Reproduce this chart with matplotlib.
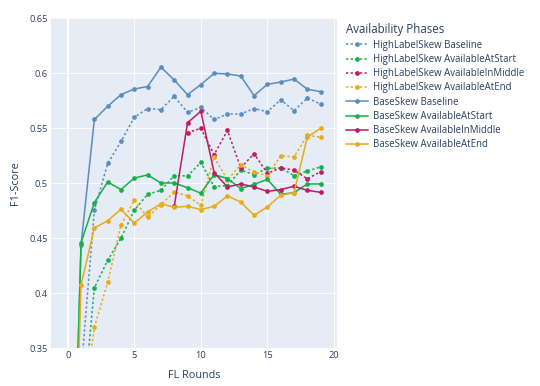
import numpy as np
import matplotlib
matplotlib.use("Agg")
import matplotlib.pyplot as plt

nan = np.nan
rounds = list(range(20))

hls_baseline = [0.02, 0.328, 0.4755, 0.518, 0.538, 0.560, 0.568, 0.567, 0.579, 0.5645,
                0.569, 0.558, 0.563, 0.563, 0.568, 0.565, 0.576, 0.566, 0.5775, 0.572]
hls_start = [0.02, 0.274, 0.405, 0.430, 0.450, 0.4755, 0.490, 0.4936, 0.507, 0.5067,
             0.519, 0.497, 0.498, 0.512, 0.508, 0.5136, 0.514, 0.507, 0.511, 0.515]
hls_middle = [nan] * 9 + [0.546, 0.550, 0.526, 0.548, 0.514, 0.527, 0.509, 0.514, 0.512, 0.504, 0.5106]
hls_end = [0.02, 0.283, 0.369, 0.410, 0.462, 0.4845, 0.469, 0.4806, 0.492, 0.4885,
           0.480, 0.524, 0.503, 0.517, 0.510, 0.507, 0.525, 0.524, 0.5436, 0.542]

bs_baseline = [0.02, 0.444, 0.558, 0.570, 0.5806, 0.5857, 0.588, 0.6055, 0.594, 0.5806,
               0.5897, 0.600, 0.5994, 0.5975, 0.5797, 0.590, 0.592, 0.5948, 0.5855, 0.5833]
bs_start = [0.02, 0.446, 0.4825, 0.5012, 0.4943, 0.5048, 0.5076, 0.5003, 0.5003, 0.496,
            0.491, 0.508, 0.5043, 0.4952, 0.499, 0.5036, 0.490, 0.4915, 0.4994, 0.4994]
bs_middle = [nan] * 8 + [0.479, 0.555, 0.5655, 0.5097, 0.4967, 0.4994, 0.4967, 0.4927,
                         0.4943, 0.4973, 0.4936, 0.4918]
bs_end = [0.02, 0.4076, 0.4594, 0.466, 0.4764, 0.4639, 0.4739, 0.4815, 0.4782, 0.4791,
          0.4761, 0.4791, 0.4885, 0.483, 0.4709, 0.4785, 0.489, 0.4915, 0.542, 0.550]

labels = ["HighLabelSkew Baseline", "HighLabelSkew AvailableAtStart",
          "HighLabelSkew AvailableInMiddle", "HighLabelSkew AvailableAtEnd",
          "BaseSkew Baseline", "BaseSkew AvailableAtStart",
          "BaseSkew AvailableInMiddle", "BaseSkew AvailableAtEnd"]
series = [hls_baseline, hls_start, hls_middle, hls_end,
          bs_baseline, bs_start, bs_middle, bs_end]
colors = ["#5b8dbd", "#16b04a", "#bb1e62", "#e8ab1a"] * 2
dotted = [True] * 4 + [False] * 4

TXT = "#2a3f5f"
plt.rcParams['font.family'] = ['Open Sans', 'DejaVu Sans']

fig = plt.figure(figsize=(5.4, 3.86), dpi=100)
ax = fig.add_axes([50.7 / 540, 1 - 348.3 / 386, (337 - 50.7) / 540, (348.3 - 18.3) / 386])
ax.set_facecolor("#e5ecf6")

for y, lab, c, d in zip(series, labels, colors, dotted):
    x = np.array(rounds)
    yy = np.array(y, dtype=float)
    m = ~np.isnan(yy)
    ls = (0, (1.5, 1.5)) if d else "-"
    ax.plot(x[m], yy[m], color=c, lw=1.11, ls=ls, marker="o", markersize=3.4,
            markeredgewidth=0, label=lab, zorder=3)

ax.set_xlim(-1.28, 20.23)
ax.set_ylim(0.35, 0.65)
ax.set_xticks([0, 5, 10, 15, 20])
ax.set_yticks([0.35, 0.4, 0.45, 0.5, 0.55, 0.6, 0.65])
ax.set_yticklabels(["0.35", "0.4", "0.45", "0.5", "0.55", "0.6", "0.65"])
ax.grid(True, color="white", lw=0.6, zorder=0)
ax.axvline(0, color="white", lw=1.2, zorder=1)
ax.set_axisbelow(True)
for s in ax.spines.values():
    s.set_visible(False)
ax.tick_params(length=0, labelsize=6.7, labelcolor=TXT, pad=2)

ax.set_xlabel("FL Rounds", fontsize=7.8, color=TXT, labelpad=7)
ax.set_ylabel("F1-Score", fontsize=7.8, color=TXT, labelpad=6)

leg = ax.legend(loc="upper left", bbox_to_anchor=(344 / 540, 1 - 21.5 / 386),
                bbox_transform=fig.transFigure, frameon=False,
                title="Availability Phases", fontsize=6.9,
                title_fontproperties={"size": 8.3},
                handlelength=2.3, handletextpad=0.55, labelspacing=0.34,
                borderpad=0.2, borderaxespad=0, alignment="left")
for t in leg.get_texts():
    t.set_color(TXT)
leg.get_title().set_color(TXT)

fig.savefig("out.png", dpi=100)
